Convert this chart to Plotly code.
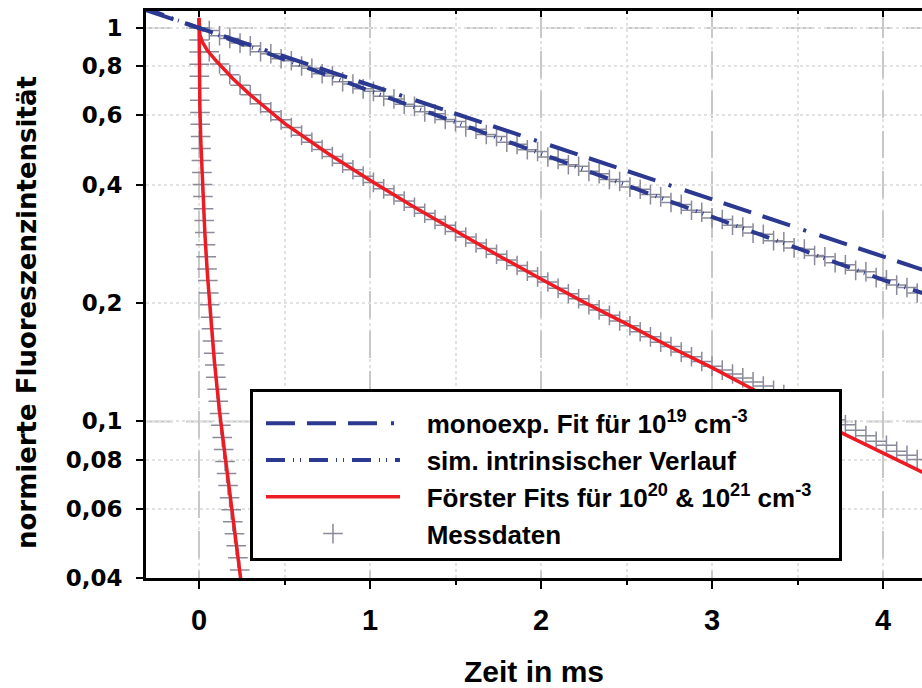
import plotly.graph_objects as go

# ---------------- data ----------------
x_tick_vals = [0, 1, 2, 3, 4]
x_tick_text = ["0", "1", "2", "3", "4"]
y_tick_vals = [0.04, 0.06, 0.08, 0.1, 0.2, 0.4, 0.6, 0.8, 1]
y_tick_text = ["0,04", "0,06", "0,08", "0,1", "0,2", "0,4", "0,6", "0,8", "1"]
y_major_grid = [0.1, 1]

# monoexponential fit (10^19 cm^-3)
t_mono = [-0.31, 4.23]
i_mono = [1.109, 0.243]

# simulated intrinsic decay
t_sim = [-0.31, 0.0, 0.5, 1.0, 1.5, 2.0, 2.5, 3.0, 3.5, 4.0, 4.23]
i_sim = [1.12, 1.0, 0.83, 0.69, 0.575, 0.479, 0.398, 0.331, 0.276, 0.229, 0.212]

# Foerster fit 10^20 cm^-3
t_foe20 = [0.0, 0.005, 0.02, 0.05, 0.1, 0.2, 0.3, 0.5, 0.75, 1.0, 1.25, 1.5,
           1.75, 2.0, 2.25, 2.5, 2.75, 3.0, 3.25, 3.5, 3.75, 4.0, 4.25]
i_foe20 = [1.06, 0.96, 0.92, 0.875, 0.825, 0.742, 0.676, 0.572, 0.481, 0.410,
           0.352, 0.304, 0.264, 0.230, 0.201, 0.177, 0.155, 0.137, 0.120, 0.106,
           0.094, 0.083, 0.0736]

# Foerster fit 10^21 cm^-3
t_foe21 = [0.0, 0.0005, 0.002, 0.005, 0.01, 0.02, 0.035, 0.05, 0.07, 0.09,
           0.12, 0.15, 0.18, 0.21, 0.235, 0.26]
i_foe21 = [1.06, 0.865, 0.748, 0.632, 0.522, 0.399, 0.296, 0.234, 0.179, 0.142,
           0.106, 0.083, 0.066, 0.052, 0.0425, 0.035]

# measured data, 10^19 and 10^20 samples (common time grid)
t_mess = [0.00, 0.06, 0.12, 0.18, 0.24, 0.30, 0.36, 0.42, 0.48, 0.54,
          0.60, 0.66, 0.72, 0.78, 0.84, 0.90, 0.96, 1.02, 1.08, 1.14,
          1.20, 1.26, 1.32, 1.38, 1.44, 1.50, 1.56, 1.62, 1.68, 1.74,
          1.80, 1.86, 1.92, 1.98, 2.04, 2.10, 2.16, 2.22, 2.28, 2.34,
          2.40, 2.46, 2.52, 2.58, 2.64, 2.70, 2.76, 2.82, 2.88, 2.94,
          3.00, 3.06, 3.12, 3.18, 3.24, 3.30, 3.36, 3.42, 3.48, 3.54,
          3.60, 3.66, 3.72, 3.78, 3.84, 3.90, 3.96, 4.02, 4.08, 4.14,
          4.20]
i_mess19 = [1.000, 0.985, 0.955, 0.940, 0.915, 0.900, 0.870, 0.860, 0.835, 0.825,
            0.800, 0.790, 0.765, 0.755, 0.730, 0.720, 0.700, 0.690, 0.670, 0.660,
            0.640, 0.632, 0.612, 0.605, 0.585, 0.578, 0.560, 0.553, 0.536, 0.530,
            0.512, 0.506, 0.490, 0.485, 0.470, 0.463, 0.449, 0.445, 0.432, 0.426,
            0.412, 0.407, 0.394, 0.389, 0.377, 0.372, 0.360, 0.356, 0.344, 0.340,
            0.329, 0.326, 0.315, 0.312, 0.301, 0.299, 0.288, 0.286, 0.276, 0.274,
            0.264, 0.262, 0.253, 0.250, 0.242, 0.240, 0.232, 0.229, 0.222, 0.219,
            0.212]
i_mess20 = [1.000, 0.870, 0.810, 0.760, 0.715, 0.676, 0.642, 0.612, 0.584, 0.558,
            0.534, 0.512, 0.491, 0.471, 0.453, 0.436, 0.420, 0.405, 0.390, 0.376,
            0.363, 0.350, 0.338, 0.326, 0.315, 0.304, 0.294, 0.284, 0.275, 0.266,
            0.257, 0.249, 0.241, 0.233, 0.226, 0.218, 0.211, 0.205, 0.198, 0.192,
            0.186, 0.180, 0.175, 0.169, 0.164, 0.159, 0.155, 0.150, 0.146, 0.142,
            0.138, 0.135, 0.132, 0.129, 0.126, 0.123, 0.120, 0.117, 0.114, 0.111,
            0.107, 0.104, 0.101, 0.098, 0.095, 0.092, 0.089, 0.087, 0.084, 0.082,
            0.080]

# measured data, 10^21 sample
t_mess21 = [0.0001, 0.0005, 0.0011, 0.0019, 0.0029, 0.0042, 0.0058, 0.0075, 0.0095,
            0.0118, 0.0142, 0.0169, 0.0199, 0.0231, 0.0265, 0.0301, 0.0340, 0.0381,
            0.0424, 0.0470, 0.0519, 0.0569, 0.0622, 0.0677, 0.0735, 0.0795, 0.0857,
            0.0922, 0.0989, 0.1058, 0.1130, 0.1204, 0.1280, 0.1359, 0.1440, 0.1524,
            0.1610, 0.1698, 0.1788, 0.1881, 0.1977, 0.2074, 0.2174, 0.2277, 0.2381]
i_mess21 = [0.932, 0.869, 0.809, 0.754, 0.703, 0.655, 0.610, 0.569, 0.530,
            0.494, 0.460, 0.429, 0.400, 0.373, 0.347, 0.324, 0.302, 0.281,
            0.262, 0.244, 0.228, 0.212, 0.198, 0.184, 0.172, 0.160, 0.149,
            0.139, 0.1295, 0.1207, 0.1125, 0.1048, 0.0977, 0.0910, 0.0848, 0.0791,
            0.0737, 0.0687, 0.0640, 0.0596, 0.0556, 0.0518, 0.0483, 0.0450, 0.0419]

# ---------------- styles ----------------
NAVY = "#2b3990"
RED = "#ed1c24"
CROSS = "#8a8a9a"
GRID = "#c8c8c8"
MINORGRID = "#e2e2e2"
ARIAL = "Liberation Sans, Arial, sans-serif"
WIDE = "DejaVu Sans, Verdana, sans-serif"
PAD = "\u00a0\u00a0\u00a0"

fig = go.Figure()

cross_marker = dict(symbol="cross-thin", size=14, line=dict(color=CROSS, width=1.5), color=CROSS)
for k, (tt, ii) in enumerate([(t_mess, i_mess19), (t_mess, i_mess20), (t_mess21, i_mess21)]):
    fig.add_trace(go.Scatter(x=tt, y=ii, mode="markers", marker=cross_marker,
                             name=PAD + "Messdaten", showlegend=(k == 0), legendrank=4))

fig.add_trace(go.Scatter(x=t_foe20, y=i_foe20, mode="lines", line=dict(color=RED, width=3.5),
                         name=PAD + "Förster Fits für 10<sup>20</sup> & 10<sup>21</sup> cm<sup>-3</sup>\u00a0\u00a0\u00a0",
                         legendrank=3))
fig.add_trace(go.Scatter(x=t_foe21, y=i_foe21, mode="lines", line=dict(color=RED, width=3.5),
                         name="Förster 21", showlegend=False))
fig.add_trace(go.Scatter(x=t_sim, y=i_sim, mode="lines",
                         line=dict(color=NAVY, width=4, dash="19px,8px,1px,6px,1px,8px"),
                         name=PAD + "sim. intrinsischer Verlauf", legendrank=2))
fig.add_trace(go.Scatter(x=t_mono, y=i_mono, mode="lines",
                         line=dict(color=NAVY, width=4, dash="29px,12px,29px,12px,29px,14px,3px,14px"),
                         name=PAD + "monoexp. Fit für 10<sup>19</sup> cm<sup>-3</sup>", legendrank=1))
# carrier for the top (mirror) axis
fig.add_trace(go.Scatter(x=[], y=[], xaxis="x2", yaxis="y", showlegend=False, hoverinfo="skip"))

x_range = [-0.31, 4.228]
for v in y_major_grid:
    fig.add_shape(type="line", xref="paper", x0=0, x1=1, yref="y", y0=v, y1=v,
                  line=dict(color=GRID, width=2, dash="27px,13px"), layer="between")

# y-axis title as a rotated annotation (placed slightly below the axis centre, as in the original)
fig.add_annotation(text="normierte Fluoreszenzintensität", textangle=-90,
                   xref="paper", yref="paper", x=-0.1534, y=0.469,
                   xanchor="center", yanchor="middle", showarrow=False,
                   font=dict(family=WIDE, size=26, weight="bold", color="black"))

fig.update_layout(
    width=922, height=688,
    margin=dict(l=146, r=0, t=11, b=110, pad=0),
    paper_bgcolor="white", plot_bgcolor="white",
    font=dict(family=ARIAL, color="black"),
    showlegend=True,
    legend=dict(x=0.134, y=0.3333, xanchor="left", yanchor="top",
                bgcolor="white", bordercolor="black", borderwidth=3,
                font=dict(family=ARIAL, size=26, weight="bold", color="black"),
                itemwidth=134, indentation=8, traceorder="normal",
                title=dict(text="\u00a0", font=dict(size=6))),
    xaxis=dict(range=x_range, tickmode="array", tickvals=x_tick_vals, ticktext=x_tick_text,
               automargin=False,
               ticks="outside", ticklen=8, tickwidth=2, tickcolor="black",
               showline=True, linewidth=3, linecolor="black",
               showgrid=True, gridcolor=GRID, gridwidth=2, griddash="27px,13px",
               zeroline=False,
               tickfont=dict(family=ARIAL, size=29, weight="bold"),
               ticklabelstandoff=6,
               minor=dict(tickmode="linear", tick0=0, dtick=0.5, ticks="outside", ticklen=4,
                          tickwidth=2, tickcolor="black", showgrid=True,
                          gridcolor=MINORGRID, gridwidth=1.5, griddash="dot"),
               title=dict(text="Zeit in ms", font=dict(family=ARIAL, size=30, weight="bold"),
                          standoff=38)),
    xaxis2=dict(range=x_range, overlaying="x", side="top", anchor="y", automargin=False,
                tickmode="array", tickvals=x_tick_vals, showticklabels=False,
                ticks="inside", ticklen=6, tickwidth=2, tickcolor="black",
                showline=True, linewidth=3, linecolor="black", showgrid=False, zeroline=False,
                minor=dict(tickmode="linear", tick0=0, dtick=0.5, ticks="inside", ticklen=3,
                           tickwidth=2, tickcolor="black", showgrid=False)),
    yaxis=dict(type="log", range=[-1.398, 0.043], tickmode="array",
               tickvals=y_tick_vals, ticktext=y_tick_text, automargin=False,
               ticks="outside", ticklen=7, tickwidth=2, tickcolor="black",
               showline=True, linewidth=3, linecolor="black",
               showgrid=True, gridcolor=MINORGRID, gridwidth=1.5, griddash="dot",
               zeroline=False,
               tickfont=dict(family=WIDE, size=23, weight="bold"),
               ticklabelstandoff=9),
)

fig.write_html("out.html")
